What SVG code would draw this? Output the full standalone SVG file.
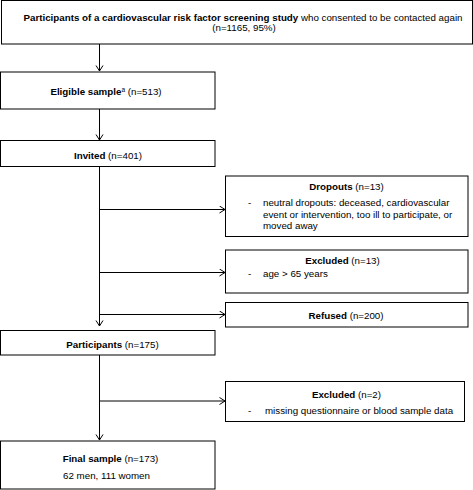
<svg xmlns="http://www.w3.org/2000/svg" width="473" height="490" viewBox="0 0 473 490">
<style>
  .box { fill: #fff; stroke: #000; stroke-width: 1; }
  .t { font-family: "Liberation Sans", Arial, sans-serif; font-size: 9.75px; fill: #000; }
  .m { text-anchor: middle; }
  .b { font-weight: bold; }
  .conn { stroke: #000; stroke-width: 1; fill: none; }
</style>
<defs>
  <marker id="arr" markerUnits="userSpaceOnUse" markerWidth="10" markerHeight="10" refX="6" refY="4" orient="auto">
    <path d="M0.5,0.5 L6,4 L0.5,7.5" fill="none" stroke="#000" stroke-width="1"/>
  </marker>
</defs>
<rect width="473" height="490" fill="#fff"/>

<g id="connectors">
  <line class="conn" x1="99.5" y1="44" x2="99.5" y2="71" marker-end="url(#arr)"/>
  <line class="conn" x1="99.5" y1="109" x2="99.5" y2="140" marker-end="url(#arr)"/>
  <line class="conn" x1="99.5" y1="166.5" x2="99.5" y2="326" marker-end="url(#arr)"/>
  <line class="conn" x1="99.5" y1="209.5" x2="225" y2="209.5" marker-end="url(#arr)"/>
  <line class="conn" x1="99.5" y1="272.5" x2="225" y2="272.5" marker-end="url(#arr)"/>
  <line class="conn" x1="99.5" y1="314.5" x2="225" y2="314.5" marker-end="url(#arr)"/>
  <line class="conn" x1="99.5" y1="355" x2="99.5" y2="440" marker-end="url(#arr)"/>
  <line class="conn" x1="99.5" y1="401" x2="225" y2="401" marker-end="url(#arr)"/>
</g>

<g id="n_participants_screening">
  <rect class="box" x="1.5" y="0.5" width="471" height="43.5"/>
  <text class="t m" x="243" y="21"><tspan class="b">Participants of a cardiovascular risk factor screening study</tspan> who consented to be contacted again</text>
  <text class="t m" x="244" y="30.5">(n=1165, 95%)</text>
</g>

<g id="n_eligible">
  <rect class="box" x="0.5" y="72" width="214.5" height="37"/>
  <text class="t m" x="106" y="95"><tspan class="b">Eligible sample</tspan><tspan font-size="6.5px" dy="-3">a</tspan><tspan dy="3"> (n=513)</tspan></text>
</g>

<g id="n_invited">
  <rect class="box" x="0.5" y="140.5" width="214.5" height="26"/>
  <text class="t m" x="108" y="159"><tspan class="b">Invited</tspan> (n=401)</text>
</g>

<g id="n_dropouts">
  <rect class="box" x="225.5" y="176" width="242.5" height="60.5"/>
  <text class="t m" x="346.5" y="190"><tspan class="b">Dropouts</tspan> (n=13)</text>
  <text class="t" x="248" y="206">-</text>
  <text class="t" x="263" y="206">neutral dropouts: deceased, cardiovascular</text>
  <text class="t" x="263" y="217.5">event or intervention, too ill to participate, or</text>
  <text class="t" x="263" y="229">moved away</text>
</g>

<g id="n_excluded1">
  <rect class="box" x="225.5" y="250" width="242.5" height="43"/>
  <text class="t m" x="342.5" y="263.5"><tspan class="b">Excluded</tspan> (n=13)</text>
  <text class="t" x="248" y="277">-</text>
  <text class="t" x="263" y="277">age &gt; 65 years</text>
</g>

<g id="n_refused">
  <rect class="box" x="225.5" y="302.5" width="242.5" height="24.5"/>
  <text class="t m" x="346" y="319"><tspan class="b">Refused</tspan> (n=200)</text>
</g>

<g id="n_participants">
  <rect class="box" x="0.5" y="330.5" width="214.5" height="24.5"/>
  <text class="t m" x="112.5" y="348"><tspan class="b">Participants</tspan> (n=175)</text>
</g>

<g id="n_excluded2">
  <rect class="box" x="225.5" y="381.5" width="239" height="40"/>
  <text class="t m" x="346.5" y="397.5"><tspan class="b">Excluded</tspan> (n=2)</text>
  <text class="t" x="248" y="413.5">-</text>
  <text class="t" x="265" y="413.5">missing questionnaire or blood sample data</text>
</g>

<g id="n_final">
  <rect class="box" x="0.5" y="441" width="214.5" height="48"/>
  <text class="t m" x="110.5" y="462"><tspan class="b">Final sample</tspan> (n=173)</text>
  <text class="t m" x="106.5" y="478.5">62 men, 111 women</text>
</g>
</svg>
